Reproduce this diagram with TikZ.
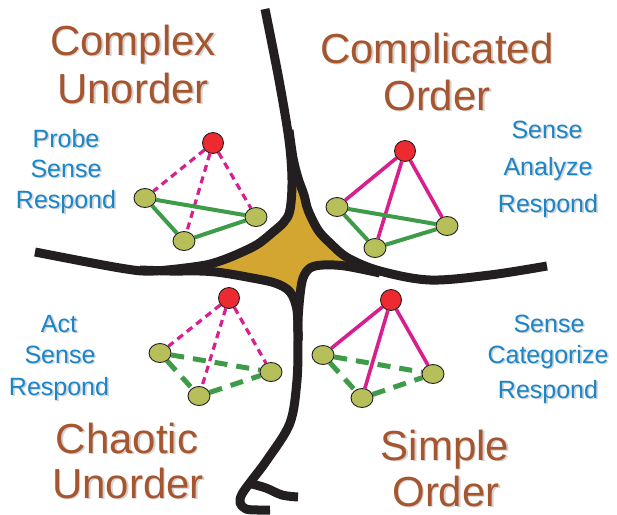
\documentclass[tikz,border=0pt]{standalone}
\usepackage{fontspec}
\setmainfont{Liberation Sans}
\usetikzlibrary{shapes.geometric}

\definecolor{titlebrown}{HTML}{A5562E}
\definecolor{stepblue}{HTML}{1A86C8}
\definecolor{txtshadow}{HTML}{D2D2D2}
\definecolor{apexred}{HTML}{EC2A2F}
\definecolor{basegreen}{HTML}{B7BF5B}
\definecolor{edgegreen}{HTML}{3E9B48}
\definecolor{edgemagenta}{HTML}{D81F8E}
\definecolor{linkblack}{HTML}{231F20}
\definecolor{goldA}{HTML}{D3A631}
\definecolor{goldB}{HTML}{BB912F}
\definecolor{goldD}{HTML}{655236}

% gold fill, bright towards the upper left, darker at the right and bottom tips
\pgfdeclareradialshading{goldstar}{\pgfpoint{-10bp}{10bp}}{%
  color(0bp)=(goldA); color(34bp)=(goldA); color(44bp)=(goldB);
  color(58bp)=(goldD); color(100bp)=(goldD)}

% text with a soft grey drop shadow
\newcommand\shtext[1]{\makebox[0pt][l]{\kern1.6pt\raisebox{-1.6pt}{\textcolor{txtshadow}{#1}}}#1}

\pgfdeclarelayer{back}
\pgfdeclarelayer{links}
\pgfsetlayers{back,links,main}

\tikzset{
  title/.style={font=\fontsize{42}{47}\selectfont, text=titlebrown, anchor=base, inner sep=0pt},
  steptext/.style={font=\fontsize{25}{30}\selectfont, text=stepblue, anchor=base, inner sep=0pt},
  apex/.style={circle, draw=linkblack, line width=0.9pt, fill=apexred, minimum size=21pt, inner sep=0pt},
  corner/.style={ellipse, draw=linkblack, line width=0.9pt, fill=basegreen, minimum width=22pt, minimum height=19pt, inner sep=0pt},
  solidpink/.style={edgemagenta, line width=3.6pt},
  dashpink/.style={edgemagenta, line width=3.2pt, dash pattern=on 7pt off 5pt},
  solidgreen/.style={edgegreen, line width=4pt},
  dashgreen/.style={edgegreen, line width=5pt, dash pattern=on 13pt off 9pt},
  border/.style={linkblack, line width=9pt, line cap=butt, line join=round},
}

\begin{document}
\begin{tikzpicture}[x=1pt, y=-1pt]
\begin{pgfonlayer}{back}
  \fill[white] (0,0) rectangle (617,514);
  \useasboundingbox (0,0) rectangle (617,514);
  % central gold star
  \shade[shading=goldstar]
    (297,178) -- (304,195) -- (308,210) -- (318,230) -- (330,243) -- (348,258) -- (365,266)
    -- (345,266) -- (323,265) -- (310,268) -- (303,278) -- (300,295) -- (298,306)
    -- (290,292) -- (275,283) -- (247,277) -- (220,272) -- (200,269)
    -- (220,261) -- (240,253) -- (258,244) -- (273,232) -- (284,222) -- (290,210) -- (292,190) -- cycle;
  % four boundary curves
  \draw[border] plot[smooth, tension=0.55] coordinates {(265,9) (279,80) (289,140) (292,180) (290,210) (284,222) (273,232) (258,244) (240,253) (220,261) (200,266) (153,271) (120,268) (35,252)};
  \draw[border] plot[smooth, tension=0.55] coordinates {(289,130) (293,158) (298,178) (304,195) (308,210) (318,230) (330,243) (348,258) (380,271) (430,280) (490,275) (547,266)};
  \draw[border] plot[smooth, tension=0.55] coordinates {(380,273) (345,266) (323,265) (310,268) (303,278) (300,295) (298,320) (298,340) (297,380) (290,423) (267,460) (252,480) (242,494) (240,503) (246,509) (258,510) (270,510)};
  \draw[border] plot[smooth, tension=0.55] coordinates {(140,270) (170,271) (200,271) (220,272.5) (247,277) (275,283) (290,292) (297,310) (298,340)};
  \draw[border] plot[smooth, tension=0.55] coordinates {(252,484) (266,488) (282,495) (298,497)};
\end{pgfonlayer}

% quadrant titles
\node[title] (t1a) at (133,55) {\shtext{Complex}};
\node[title] (t1b) at (133,103) {\shtext{Unorder}};
\node[title] (t2a) at (437,63) {\shtext{Complicated}};
\node[title] (t2b) at (437,110) {\shtext{Order}};
\node[title] (t3a) at (127,453) {\shtext{Chaotic}};
\node[title] (t3b) at (128,498) {\shtext{Unorder}};
\node[title] (t4a) at (445,460) {\shtext{Simple}};
\node[title] (t4b) at (446,506) {\shtext{Order}};

% response sequences
\node[steptext] (s1a) at (66,147) {\shtext{Probe}};
\node[steptext] (s1b) at (66,177) {\shtext{Sense}};
\node[steptext] (s1c) at (66,208) {\shtext{Respond}};
\node[steptext] (s2a) at (547,138) {\shtext{Sense}};
\node[steptext] (s2b) at (548,175) {\shtext{Analyze}};
\node[steptext] (s2c) at (548,212) {\shtext{Respond}};
\node[steptext] (s3a) at (59,332) {\shtext{Act}};
\node[steptext] (s3b) at (60,363) {\shtext{Sense}};
\node[steptext] (s3c) at (59,395) {\shtext{Respond}};
\node[steptext] (s4a) at (549,332) {\shtext{Sense}};
\node[steptext] (s4b) at (548,363) {\shtext{Categorize}};
\node[steptext] (s4c) at (548,398) {\shtext{Respond}};

% complex
\node[apex] (ca) at (213,143) {};
\node[corner] (cl) at (145,198) {};
\node[corner] (cr) at (256,217) {};
\node[corner] (cb) at (184,241) {};
% complicated
\node[apex] (pa) at (405,151) {};
\node[corner] (pl) at (337,207) {};
\node[corner] (pr) at (447,226) {};
\node[corner] (pb) at (375,248) {};
% chaotic
\node[apex] (ha) at (229,298) {};
\node[corner] (hl) at (160,353) {};
\node[corner] (hr) at (271,372) {};
\node[corner] (hb) at (199,396) {};
% simple
\node[apex] (sa) at (391,300) {};
\node[corner] (sl) at (323,355) {};
\node[corner] (sr) at (433,374) {};
\node[corner] (sb) at (362,398) {};

\begin{pgfonlayer}{links}
  \draw[dashpink] (ca) -- (cl) (ca) -- (cr) (ca) -- (cb);
  \draw[solidgreen] (cl) -- (cr) (cl) -- (cb) (cb) -- (cr);
  \draw[solidpink] (pa) -- (pl) (pa) -- (pr) (pa) -- (pb);
  \draw[solidgreen] (pl) -- (pr) (pl) -- (pb) (pb) -- (pr);
  \draw[dashpink] (ha) -- (hl) (ha) -- (hr) (ha) -- (hb);
  \draw[dashgreen] (hl) -- (hr) (hl) -- (hb) (hb) -- (hr);
  \draw[solidpink] (sa) -- (sl) (sa) -- (sr) (sa) -- (sb);
  \draw[dashgreen] (sl) -- (sr) (sl) -- (sb) (sb) -- (sr);
\end{pgfonlayer}
\end{tikzpicture}
\end{document}
